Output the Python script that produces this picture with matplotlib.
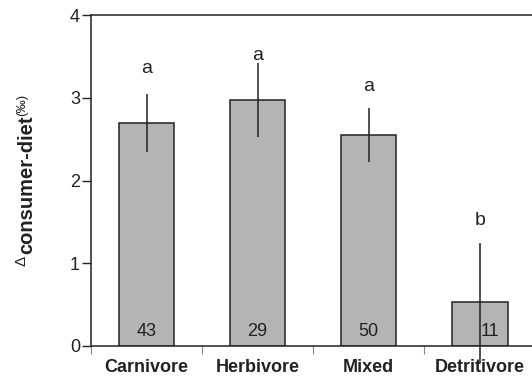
"""Consumer-diet isotope offset by feeding group, with SE bars and group letters"""

import numpy as np
import matplotlib.pyplot as plt
from matplotlib.ticker import FixedLocator

# -----------------------------------------------------------------------------

groups = ['Carnivore', 'Herbivore', 'Mixed', 'Detritivore']
delta_mean = [2.69, 2.97, 2.55, 0.53]
delta_err = [0.35, 0.45, 0.33, 0.72]
n_studies = [43, 29, 50, 11]
sig_letters = ['a', 'a', 'a', 'b']
letter_y = [3.35, 3.51, 3.13, 1.52]

plt.rcParams['font.family'] = ['Liberation Sans', 'DejaVu Sans']

W, H = 532, 380
fig = plt.figure(figsize=(W / 100, H / 100), dpi=100)
ax = fig.add_axes([91 / W, 1 - 346 / H, 1 - 91 / W, (346 - 15) / H])

ink = '#222222'
x = np.arange(len(groups))

# -- Bars and error lines
ax.bar(x, delta_mean, width=0.5, color='#b4b4b4', edgecolor=ink,
       linewidth=1.1, zorder=2)
for xi, m, e in zip(x, delta_mean, delta_err):
    ax.plot([xi, xi], [m - e, m + e], color=ink, lw=1.1, zorder=3,
            clip_on=False, solid_capstyle='butt')

# -- Sample sizes inside the bars, shifted off the error line if it crosses
for xi, m, e, n in zip(x, delta_mean, delta_err, n_studies):
    if m - e < 0.2:
        ax.text(xi + 0.01, 0.17, str(n), ha='left', va='center',
                fontsize=13, color=ink, zorder=4)
    else:
        ax.text(xi, 0.17, str(n), ha='center', va='center',
                fontsize=13, color=ink, zorder=4)

# -- Significance letters
for xi, ly, lab in zip(x, letter_y, sig_letters):
    ax.text(xi, ly, lab, ha='center', va='center', fontsize=14,
            color=ink, zorder=4)

# -- Axes
ax.set_xlim(-0.5, 3.47)
ax.set_ylim(0, 4)
ax.set_yticks([0, 1, 2, 3, 4])
ax.tick_params(axis='y', direction='out', length=6.5, width=1.0,
               color=ink, labelsize=13, pad=1.5, labelcolor=ink)
ax.set_xticks(x)
ax.set_xticklabels(groups, fontweight='bold', fontsize=13)
ax.tick_params(axis='x', which='major', length=0, pad=9, labelcolor=ink)
ax.xaxis.set_minor_locator(FixedLocator(x - 0.5))
ax.tick_params(axis='x', which='minor', direction='out', length=6,
               width=0.8, color='#888888')

for side in ['left', 'bottom', 'top']:
    ax.spines[side].set_linewidth(1.1)
    ax.spines[side].set_color(ink)
ax.spines['right'].set_visible(False)

# -- Y label assembled from delta symbol, bold subscript and unit
fig.text(21 / W, 1 - 261 / H, '\u0394', rotation=90, ha='center',
         va='center', fontsize=11, color=ink)
fig.text(27 / W, 1 - 185 / H, 'consumer-diet', rotation=90, ha='center',
         va='center', fontsize=14.5, fontweight='bold', color=ink)
fig.text(22 / W, 1 - 105 / H, '(\u2030)', rotation=90, ha='center',
         va='center', fontsize=9.5, color=ink)

fig.savefig('out.png', dpi=100)
